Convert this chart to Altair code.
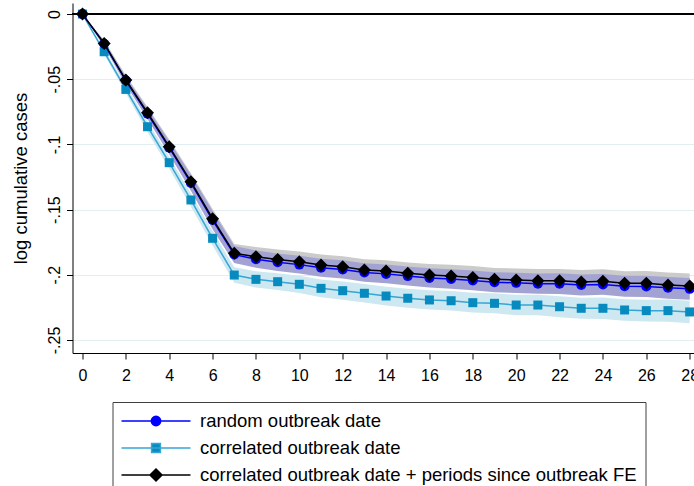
import altair as alt
import pandas as pd

# Event-study estimates: periods since outbreak, point estimates and CI half-widths
periods = list(range(29))
series_names = [
    "random outbreak date",
    "correlated outbreak date",
    "correlated outbreak date + periods since outbreak FE",
]

random_est = [0, -0.0228, -0.0510, -0.0765, -0.1025, -0.1295, -0.1580, -0.1845,
              -0.1880, -0.1903, -0.1922, -0.1946, -0.1959, -0.1983, -0.1993,
              -0.2010, -0.2024, -0.2032, -0.2043, -0.2057, -0.2062, -0.2068,
              -0.2068, -0.2078, -0.2074, -0.2088, -0.2089, -0.2100, -0.2108]
random_ci = [0, .002, .003, .004, .005, .006, .007, .0065, .0066, .0067, .0068,
             .0069, .007, .0071, .0072, .0073, .0074, .0075, .0076, .0077, .0078,
             .0078, .0079, .008, .008, .0081, .0082, .0083, .0084]

corr_est = [0, -0.0289, -0.0578, -0.0864, -0.1140, -0.1426, -0.1720, -0.2002,
            -0.2035, -0.2053, -0.2073, -0.2104, -0.2122, -0.2142, -0.2163,
            -0.2180, -0.2193, -0.2199, -0.2214, -0.2219, -0.2232, -0.2232,
            -0.2245, -0.2257, -0.2257, -0.2270, -0.2275, -0.2275, -0.2285]
corr_ci = [0, .002, .003, .004, .0045, .005, .0055, .006, .0062, .0064, .0066,
           .0068, .007, .0071, .0072, .0073, .0074, .0075, .0076, .0077, .0078,
           .0079, .008, .0081, .0082, .0083, .0084, .0085, .0086]

fe_est = [0, -0.0225, -0.0506, -0.0757, -0.1017, -0.1286, -0.1570, -0.1835,
          -0.1861, -0.1882, -0.1900, -0.1925, -0.1938, -0.1963, -0.1971,
          -0.1989, -0.2002, -0.2009, -0.2020, -0.2035, -0.2040, -0.2045,
          -0.2045, -0.2055, -0.2050, -0.2065, -0.2065, -0.2078, -0.2086]
fe_ci = [0, .0025, .0035, .0045, .0055, .0065, .0075, .0072, .0074, .0076, .0078,
         .008, .0081, .0082, .0083, .0084, .0085, .0086, .0087, .0088, .0089,
         .009, .009, .0091, .0092, .0093, .0094, .0095, .0096]

line_colors = ["#0000ff", "#35a5d6", "#000000"]
marker_colors = ["#0000ff", "#078bbf", "#000000"]
band_colors = ["#a3a3d3", "#cde8f1", "#cbcbcb"]
band_opacity = [1.0, 1.0, 1.0]
marker_shapes = ["circle", "square", "diamond"]
marker_sizes = [100, 81, 169]

# legend keys: a line segment with the series marker in the middle
legend_paths = [
    "M-3.45,0H3.45M-0.47,0A0.47,0.47,0,1,0,0.47,0A0.47,0.47,0,1,0,-0.47,0Z",
    "M-3.45,0H3.45M-0.44,-0.44H0.44V0.44H-0.44Z",
    "M-3.45,0H3.45M0,-0.6L0.6,0L0,0.6L-0.6,0Z",
]

rows = []
for name, est, ci in zip(series_names, [random_est, corr_est, fe_est],
                         [random_ci, corr_ci, fe_ci]):
    for p, e, h in zip(periods, est, ci):
        rows.append({"period": p, "series": name, "est": e,
                     "lo": e - h, "hi": e + h})
df = pd.DataFrame(rows)

FONT = "Liberation Sans"

x_enc = alt.X(
    "period:Q",
    scale=alt.Scale(domain=[-0.46, 28.2], nice=False, zero=False),
    axis=alt.Axis(values=list(range(0, 29, 2)), title=None, grid=False,
                  tickSize=6, labelPadding=8, labelFontSize=16,
                  labelFlush=False, labelOverlap=False, labelColor="black",
                  domainColor="black", tickColor="black"),
)

y_scale = alt.Scale(domain=[-0.26, 0.0085], nice=False, zero=False)
y_axis = alt.Axis(
    values=[0, -0.05, -0.1, -0.15, -0.2, -0.25],
    labelExpr="datum.value == 0 ? '0' : '-' + replace(format(abs(datum.value), '.2~f'), '0.', '.')",
    labelAngle=270, labelFontSize=16, labelPadding=4, labelColor="black",
    title="log cumulative cases", titleFontSize=18.5, titleFontWeight="normal",
    titleColor="black", titlePadding=16,
    grid=True, gridColor="#e3eef0", gridWidth=1.2,
    tickSize=6, tickColor="black", domainColor="black",
)

legend = alt.Legend(
    title=None, orient="none", legendX=40, legendY=399, direction="vertical",
    labelFont=FONT, labelFontSize=18.5, labelColor="black", labelLimit=0,
    symbolSize=400, symbolOffset=24.5, labelOffset=33, rowPadding=6,
    padding=8, strokeColor="#404040", fillColor="white", symbolStrokeWidth=1.5,
)

stroke_enc = alt.Stroke("series:N", scale=alt.Scale(domain=series_names, range=line_colors),
                        legend=legend)
fill_enc = alt.Fill("series:N", scale=alt.Scale(domain=series_names, range=marker_colors),
                    legend=legend)
shape_enc = alt.Shape("series:N", scale=alt.Scale(domain=series_names, range=legend_paths),
                      legend=legend)

base = alt.Chart(df)

layers = []
# confidence bands: FE (gray) first, then random (purple), then correlated (light blue)
for i in [2, 0, 1]:
    layers.append(
        base.transform_filter(alt.datum.series == series_names[i])
        .mark_area(color=band_colors[i], opacity=band_opacity[i])
        .encode(x=x_enc, y=alt.Y("lo:Q", scale=y_scale, axis=y_axis), y2="hi:Q")
    )

# reference line at zero
layers.append(
    base.mark_rule(color="black", strokeWidth=1.5).encode(y=alt.datum(0))
)

# estimate lines with markers
for i in [1, 0, 2]:
    sub = base.transform_filter(alt.datum.series == series_names[i])
    layers.append(
        sub.mark_line(strokeWidth=1.5).encode(
            x=x_enc, y=alt.Y("est:Q", scale=y_scale, axis=y_axis), stroke=stroke_enc)
    )
    layers.append(
        sub.mark_point(filled=True, opacity=1, shape=marker_shapes[i],
                       size=marker_sizes[i], strokeWidth=0).encode(
            x=x_enc, y=alt.Y("est:Q", scale=y_scale, axis=y_axis), fill=fill_enc)
    )

# empty layer that only carries the legend keys
layers.append(
    base.transform_filter("false")
    .mark_point(filled=True, opacity=1, size=400, strokeWidth=1.5)
    .encode(x=x_enc, y=alt.Y("est:Q", scale=y_scale, axis=y_axis),
            stroke=stroke_enc, fill=fill_enc, shape=shape_enc)
)

chart = (
    alt.layer(*layers)
    .properties(width=621.5, height=350,
                autosize=alt.AutoSizeParams(type="none"),
                padding={"left": 72.5, "top": 3, "right": 0, "bottom": 133},
                background="white")
    .configure(font=FONT)
    .configure_view(stroke=None)
)

chart.save("out.html", embed_options={"renderer": "svg", "actions": False})
